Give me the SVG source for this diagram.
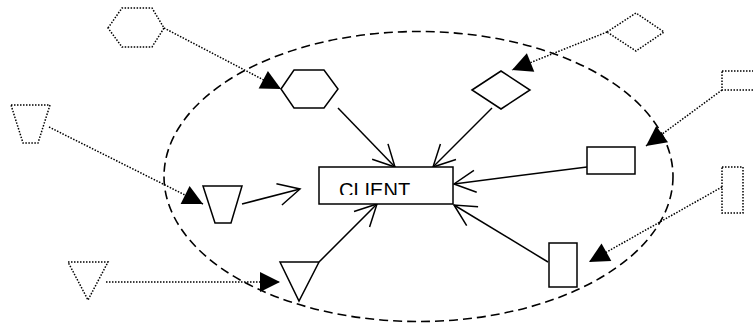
<svg xmlns="http://www.w3.org/2000/svg" width="753" height="327" viewBox="0 0 753 327">
  <style>
    .solid { fill: #fff; stroke: #000; stroke-width: 1.5; }
    .dot { fill: none; stroke: #000; stroke-width: 1.5; stroke-dasharray: 1.5 1.5; }
    .ellipse { fill: none; stroke: #000; stroke-width: 1.6; stroke-dasharray: 9 5; }
    .conn { fill: none; stroke: #000; stroke-width: 1.5; marker-end: url(#open); }
    .dconn { fill: none; stroke: #000; stroke-width: 1.5; stroke-dasharray: 1.5 1.5; marker-end: url(#filled); }
    .label { font-family: "Liberation Sans", Arial, sans-serif; font-size: 20px; fill: #000; }
  </style>
  <defs>
    <marker id="open" markerUnits="userSpaceOnUse" viewBox="-23 -12 25 24" refX="0" refY="0" markerWidth="25" markerHeight="24" orient="auto" overflow="visible">
      <path d="M -21.5 -11 L 0 0 L -21.5 11" fill="none" stroke="#000" stroke-width="1.5"/>
    </marker>
    <marker id="filled" markerUnits="userSpaceOnUse" viewBox="-20 -10 20 20" refX="0" refY="0" markerWidth="20" markerHeight="20" orient="auto" overflow="visible">
      <path d="M 0 0 L -20 -10 L -20 10 Z" fill="#000"/>
    </marker>
    <clipPath id="textclip">
      <rect x="319" y="167" width="134" height="28"/>
    </clipPath>
  </defs>

  <ellipse id="boundary" class="ellipse" cx="418.5" cy="176.5" rx="254.5" ry="145"/>

  <g id="connectors">
    <line class="conn" x1="338" y1="108" x2="395" y2="167"/>
    <line class="conn" x1="492" y1="108" x2="433" y2="167"/>
    <line class="conn" x1="587" y1="167" x2="454" y2="184"/>
    <line class="conn" x1="548" y1="262" x2="454" y2="205"/>
    <line class="conn" x1="319" y1="262" x2="377" y2="204"/>
    <line class="conn" x1="242" y1="204" x2="300" y2="189"/>

    <line class="dconn" x1="164" y1="28" x2="281" y2="89"/>
    <line class="dconn" x1="607" y1="32" x2="512" y2="70"/>
    <line class="dconn" x1="722" y1="90" x2="646" y2="146"/>
    <line class="dconn" x1="722" y1="187" x2="589" y2="262"/>
    <line class="dconn" x1="49" y1="127" x2="203" y2="204"/>
    <line class="dconn" x1="106" y1="282" x2="280" y2="282"/>
  </g>

  <g id="client">
    <rect class="solid" x="319" y="167" width="134" height="37"/>
    <text class="label" x="339" y="197" clip-path="url(#textclip)">CLIENT</text>
  </g>

  <g id="hexagon">
    <polygon class="solid" points="281,89 294,70 324,70 338,89 324,108 294,108"/>
  </g>
  <g id="diamond">
    <polygon class="solid" points="472,90 501,71 530,90 501,109"/>
  </g>
  <g id="rect-right">
    <rect class="solid" x="587" y="147" width="48" height="27"/>
  </g>
  <g id="rect-lower">
    <rect class="solid" x="549" y="243" width="28" height="44"/>
  </g>
  <g id="trapezoid">
    <polygon class="solid" points="203,186 242,186 231,223 215,223"/>
  </g>
  <g id="triangle">
    <polygon class="solid" points="280,262 319,262 299,301"/>
  </g>

  <g id="hexagon-ext">
    <polygon class="dot" points="108,28 122,8 152,8 164,28 152,47 122,47"/>
  </g>
  <g id="diamond-ext">
    <polygon class="dot" points="607,32 636,13 664,32 636,51"/>
  </g>
  <g id="rect-right-ext">
    <rect class="dot" x="722" y="71" width="45" height="19"/>
  </g>
  <g id="rect-lower-ext">
    <rect class="dot" x="722" y="167" width="21" height="46"/>
  </g>
  <g id="trapezoid-ext">
    <polygon class="dot" points="11,105 50,105 38,143 23,143"/>
  </g>
  <g id="triangle-ext">
    <polygon class="dot" points="68,262 108,262 88,300"/>
  </g>
</svg>
